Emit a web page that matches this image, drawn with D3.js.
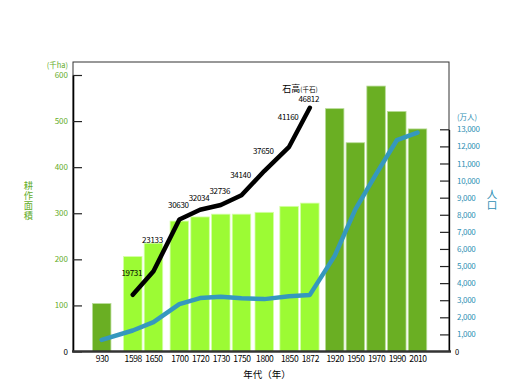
<!DOCTYPE html>
<html><head><meta charset="utf-8">
<script src="https://cdn.jsdelivr.net/npm/d3@7"></script>
<style>
body{margin:0;background:#fff;}
svg{display:block;font-family:"Noto Sans CJK JP","Noto Sans",sans-serif;}
</style></head>
<body><svg id="c" width="522" height="390"></svg>
<script>
// ---- data ----
const years = ["930","1598","1650","1700","1720","1730","1750","1800","1850","1872","1920","1950","1970","1990","2010"];
const area = [104,206,235,283,292,298,298,302,315,322,527,453,576,521,483];           // 千ha
const modernYears = ["930","1920","1950","1970","1990","2010"];
const kokudakaYears = ["1598","1650","1700","1720","1730","1750","1800","1850","1872"];
const kokudaka = [19731,23133,30630,32034,32736,34140,37650,41160,46812];             // 千石
const population = [680,1227,1718,2769,3128,3208,3110,3065,3228,3311,5596,8320,10372,12361,12806]; // 万人
const areaTicks = [0,100,200,300,400,500,600];
const popTicks = [1000,2000,3000,4000,5000,6000,7000,8000,9000,10000,11000,12000,13000];
const areaTitle = ["耕","作","面","積"];
const popTitle = ["人","口"];

// ---- layout (extra spacing between era groups, in bar steps) ----
const extraGap = {"1598":0.5,"1700":0.25,"1800":0.1,"1850":0.2,"1920":0.2};
let acc = -1; const slot = years.map(y => (acc += 1 + (extraGap[y]||0)));
const slotScale = d3.scaleLinear().domain([0, slot[slot.length-1]]).range([101.7, 417.5]);
const x = d3.scaleOrdinal().domain(years).range(slot.map(s => slotScale(s)));
const barW = 18.5;

const L = 73, R = 449, T = 62, B = 351.5;
const yArea = d3.scaleLinear().domain([0,600]).range([B, 75]);
const yPop = d3.scaleLinear().domain([0,13000]).range([B, 129.3]);
const yKoku = d3.scaleLinear().domain([0,50000]).range([431, 85.75]);

const svg = d3.select("#c");
const GREEN = "#64ac2a", LIME = "#9cfb34", DARK = "#6aaf23", TEAL = "#2f8fb4", BLUE = "#3598be";

// frame
svg.append("rect").attr("x",L).attr("y",T).attr("width",R-L).attr("height",B-T)
  .attr("fill","none").attr("stroke","#333").attr("stroke-width",1);

// bars
svg.append("g").selectAll("rect").data(years).join("rect")
  .attr("x", d => x(d) - barW/2)
  .attr("y", (d,i) => yArea(area[i]))
  .attr("width", barW)
  .attr("height", (d,i) => B - yArea(area[i]))
  .attr("fill", d => modernYears.includes(d) ? DARK : LIME)
  .attr("stroke", d => modernYears.includes(d) ? "#b9dc98" : "#d4ffa6")
  .attr("stroke-width", 0.8);

// population line
svg.append("path").datum(years)
  .attr("fill","none").attr("stroke",BLUE).attr("stroke-width",4.5)
  .attr("stroke-linejoin","round").attr("stroke-linecap","round")
  .attr("d", d3.line().x(d => x(d)).y((d,i) => yPop(population[i])));

// kokudaka line
const kpts = kokudakaYears.map((d,i) => [x(d), yKoku(kokudaka[i])]);
svg.append("path").datum(kpts)
  .attr("fill","none").attr("stroke","#000").attr("stroke-width",4.5)
  .attr("stroke-linejoin","round").attr("stroke-linecap","round")
  .attr("d", d3.line());

// kokudaka labels: placed just above the line
svg.append("g").selectAll("text").data(kpts).join("text")
  .attr("x", (p,i) => p[0] - 1)
  .attr("y", (p,i) => {
    let yy = p[1];
    if (i < kpts.length-1) {
      const n = kpts[i+1]; const s = (n[1]-p[1])/(n[0]-p[0]);
      yy = Math.min(p[1], p[1] + s*11);
    }
    return yy - 6;
  })
  .attr("text-anchor","middle").attr("font-size",8).attr("letter-spacing",-0.3).attr("fill","#000")
  .text((p,i) => kokudaka[i]);

const kt = svg.append("text").attr("x",300).attr("y",92).attr("text-anchor","middle").attr("fill","#000");
kt.append("tspan").attr("font-size",9).text("石高");
kt.append("tspan").attr("font-size",6.5).text("(千石)");

// vertical text (one text element, one tspan per character)
function vtext(chars, cx, top, size, step, color) {
  const t = svg.append("text").attr("text-anchor","middle").attr("font-size", size).attr("fill", color);
  chars.forEach((c,i) => {
    t.append("tspan").attr("x", cx).attr("y", top + (i+1)*step - 1.5).text(c);
  });
}

// left axis
const gl = svg.append("g").attr("transform",`translate(${L},0)`)
  .call(d3.axisLeft(yArea).tickValues(areaTicks).tickSizeInner(-9).tickSizeOuter(0).tickPadding(5));
gl.select(".domain").attr("stroke","#000").attr("stroke-width",1.6);
gl.selectAll(".tick line").attr("stroke","#222").attr("stroke-width",1.2);
gl.selectAll(".tick text").attr("fill", d => d===0 ? "#000" : GREEN).attr("font-size",8)
  .attr("font-family","\"Noto Sans CJK JP\",sans-serif");
svg.append("text").attr("x",68).attr("y",68).attr("text-anchor","end").attr("font-size",7.5)
  .attr("fill",GREEN).text("(千ha)");
vtext(areaTitle, 28.5, 181, 9.3, 9.8, GREEN);

// right axis
const gr = svg.append("g").attr("transform",`translate(${R},0)`)
  .call(d3.axisRight(yPop).tickValues(popTicks).tickSizeInner(-9).tickSizeOuter(0).tickPadding(8).tickFormat(d3.format(",")));
gr.select(".domain").attr("stroke","#000").attr("stroke-width",1.3);
gr.selectAll(".tick line").attr("stroke","#222").attr("stroke-width",1.2);
gr.selectAll(".tick text").attr("fill",TEAL).attr("font-size",8).attr("letter-spacing",-0.3)
  .attr("font-family","\"Noto Sans CJK JP\",sans-serif");
svg.append("text").attr("x",455).attr("y",355).attr("font-size",7.5).attr("fill","#000").text("0");
svg.append("text").attr("x",457).attr("y",120).attr("font-size",7.5).attr("fill",TEAL).text("(万人)");
vtext(popTitle, 492, 189, 10.5, 10.5, TEAL);

// bottom axis
const gb = svg.append("g").attr("transform",`translate(0,${B})`)
  .call(d3.axisBottom(x).tickSize(0).tickPadding(4));
gb.select(".domain").remove();
gb.selectAll(".tick text").attr("font-size",8.5).attr("letter-spacing",-0.4).attr("fill","#000")
  .attr("font-family","\"Noto Sans CJK JP\",sans-serif");
svg.append("line").attr("x1",L-1).attr("x2",R+2).attr("y1",B).attr("y2",B)
  .attr("stroke","#333").attr("stroke-width",2.5);
svg.append("text").attr("x",267).attr("y",378).attr("text-anchor","middle").attr("font-size",9.5)
  .attr("fill","#000").text("年代（年）");
</script></body></html>
